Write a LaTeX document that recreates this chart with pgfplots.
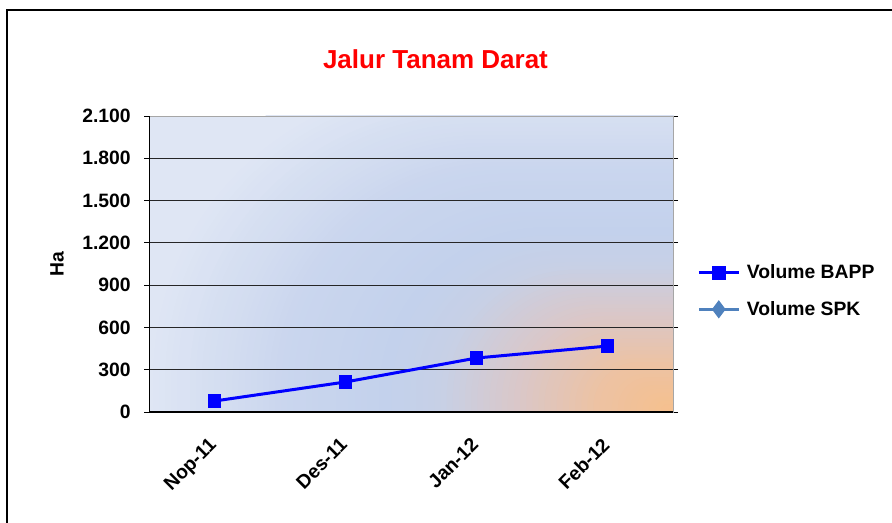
\documentclass[border=0pt]{standalone}
\usepackage{fontspec}
\setmainfont{Liberation Sans}
\usepackage{pgfplots}
\pgfplotsset{compat=1.18}

\definecolor{bapp}{HTML}{0000FF}
\definecolor{spk}{HTML}{4F81BD}
% gradient stops of the plot area, from the lower right corner outwards
\definecolor{s0}{HTML}{F6C08C}
\definecolor{s1}{HTML}{EDC2A3}
\definecolor{s2}{HTML}{DAC7C8}
\definecolor{s3}{HTML}{C7D0E6}
\definecolor{s4}{HTML}{C3D1EC}
\definecolor{s5}{HTML}{CAD6EE}
\definecolor{s6}{HTML}{DFE6F4}

\newcommand{\lblfont}{\fontsize{14.5}{16}\selectfont\bfseries}

\begin{document}
\begin{tikzpicture}
\useasboundingbox (0pt,0pt) rectangle (669pt,391.5pt);
\draw[line width=1.5pt] (5.6pt,-20pt) rectangle (700pt,384pt);

% background: nested rounded boxes round the lower right corner
\begin{scope}
\clip (111.75pt,82.5pt) rectangle (504.75pt,304.5pt);
\fill[s6] (111.75pt,82.5pt) rectangle (504.75pt,304.5pt);
\foreach \i in {0,...,89}{
  \pgfmathsetmacro{\k}{1.05-1.05*\i/90}
  \pgfmathsetmacro{\rr}{0.9*\k*247}
  \ifdim\k pt<0.15pt
    \pgfmathsetmacro{\t}{100*\k/0.15}\colorlet{tmp}{s1!\t!s0}
  \else\ifdim\k pt<0.3pt
    \pgfmathsetmacro{\t}{100*(\k-0.15)/0.15}\colorlet{tmp}{s2!\t!s1}
  \else\ifdim\k pt<0.45pt
    \pgfmathsetmacro{\t}{100*(\k-0.3)/0.15}\colorlet{tmp}{s3!\t!s2}
  \else\ifdim\k pt<0.55pt
    \pgfmathsetmacro{\t}{100*(\k-0.45)/0.1}\colorlet{tmp}{s4!\t!s3}
  \else\ifdim\k pt<0.75pt
    \pgfmathsetmacro{\t}{100*(\k-0.55)/0.2}\colorlet{tmp}{s5!\t!s4}
  \else\ifdim\k pt<1pt
    \pgfmathsetmacro{\t}{100*(\k-0.75)/0.25}\colorlet{tmp}{s6!\t!s5}
  \else
    \colorlet{tmp}{s6}
  \fi\fi\fi\fi\fi\fi
  \fill[tmp, rounded corners=\rr pt] ({504.75pt-\k*393pt},{82.5pt-\k*247pt})
      rectangle ({504.75pt+\k*393pt},{82.5pt+\k*247pt});
}
\end{scope}

\begin{axis}[
    at={(111.75pt,82.5pt)}, anchor=south west,
    width=393pt, height=222pt, scale only axis,
    xmin=-0.5, xmax=3.5,
    ymin=0, ymax=2100,
    ytick={0,300,...,2100},
    xtick={0,1,2,3},
    xticklabels={Nop-11,Des-11,Jan-12,Feb-12},
    xtick style={draw=none},
    ytick style={black, line width=0.75pt},
    tick align=outside,
    major tick length=3.75pt,
    ymajorgrids,
    major grid style={black!85, line width=0.75pt},
    axis line style={draw=gray!70, line width=0.75pt},
    /pgf/number format/.cd, 1000 sep={.}, assume math mode=true,
    /pgfplots/.cd,
    yticklabel style={font=\lblfont, anchor=east, inner sep=0pt, xshift=-9.75pt},
    xticklabel style={font=\lblfont, xshift=-5pt, yshift=-14.5pt, rotate=45, anchor=north east, inner sep=0pt},
    legend style={at={(1.0458,0.4088)}, anchor=west, draw=none, fill=none,
        inner sep=0pt, font=\lblfont, row sep=15.5pt, nodes={inner sep=0pt},
        /tikz/every odd column/.append style={column sep=5pt}},
    legend cell align=left,
    legend image code/.code={\draw[mark repeat=2, mark phase=2, #1]
        plot coordinates {(0pt,0pt) (15pt,0pt) (30pt,0pt)};},
]
\addplot[bapp, line width=2.25pt, mark=square*, mark size=4.1pt,
    mark options={solid}] coordinates {
    (0,78) (1,213) (2,383) (3,468)
};
\addlegendentry{Volume BAPP}
\addlegendimage{spk, line width=2.25pt, mark=diamond*, mark size=5pt}
\addlegendentry{Volume SPK}

\draw[black, line width=0.9pt] (rel axis cs:0,1) -- (rel axis cs:0,0) -- (rel axis cs:1,0);
\end{axis}

\node[font=\fontsize{19.5}{22}\selectfont\bfseries, text=red] at (326.6pt,347.25pt) {Jalur Tanam Darat};
\node[font=\lblfont, rotate=90] at (42.75pt,193.5pt) {Ha};
\end{tikzpicture}
\end{document}
